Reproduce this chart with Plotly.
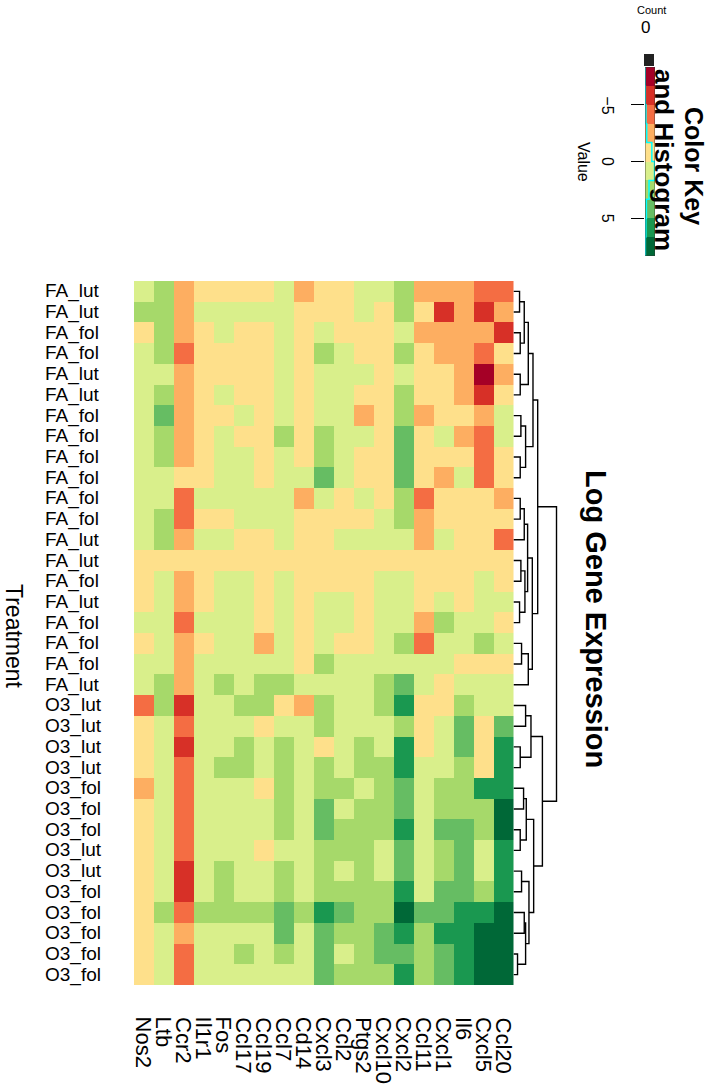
import numpy as np
import plotly.graph_objects as go

genes = ["Nos2", "Ltb", "Ccr2", "Il1r1", "Fos", "Ccl17", "Ccl19", "Ccl7", "Cd14",
         "Cxcl3", "Ccl2", "Ptgs2", "Cxcl10", "Cxcl2", "Ccl11", "Cxcl1", "Il6",
         "Cxcl5", "Ccl20"]

samples = ["FA_lut", "FA_lut", "FA_fol", "FA_fol", "FA_lut", "FA_lut", "FA_fol",
           "FA_fol", "FA_fol", "FA_fol", "FA_fol", "FA_fol", "FA_lut", "FA_lut",
           "FA_fol", "FA_lut", "FA_fol", "FA_fol", "FA_fol", "FA_lut",
           "O3_lut", "O3_lut", "O3_lut", "O3_lut", "O3_fol", "O3_fol", "O3_fol",
           "O3_lut", "O3_lut", "O3_fol", "O3_fol", "O3_fol", "O3_fol", "O3_fol"]

# log expression, one row per sample (top to bottom), one value per gene (left to right)
expression = [
    [0.8, 2.5, -2.5, -0.8, -0.8, -0.8, -0.8, 0.8, -2.5, -0.8, -0.8, 0.8, 0.8, 2.5, -2.5, -2.5, -2.5, -4.2, -4.2],
    [2.5, 2.5, -2.5, 0.8, 0.8, 0.8, 0.8, 0.8, -0.8, -0.8, -0.8, 0.8, -0.8, 2.5, -0.8, -5.8, -2.5, -5.8, -2.5],
    [-0.8, 2.5, -2.5, -0.8, 0.8, -0.8, -0.8, 0.8, -0.8, 0.8, -0.8, -0.8, -0.8, 0.8, -2.5, -2.5, -2.5, -2.5, -5.8],
    [0.8, 2.5, -4.2, -0.8, -0.8, -0.8, -0.8, 0.8, -0.8, 2.5, 0.8, -0.8, -0.8, 2.5, -0.8, -2.5, -2.5, -4.2, -0.8],
    [0.8, 0.8, -2.5, -0.8, -0.8, -0.8, -0.8, 0.8, -0.8, 0.8, 0.8, 0.8, -0.8, 0.8, -0.8, -0.8, -2.5, -7.5, -2.5],
    [0.8, 2.5, -2.5, -0.8, 0.8, -0.8, -0.8, 0.8, -0.8, 0.8, 0.8, -0.8, -0.8, 2.5, -0.8, -0.8, -2.5, -5.8, -0.8],
    [0.8, 4.2, -2.5, -0.8, -0.8, 0.8, -0.8, 0.8, -0.8, 0.8, 0.8, -2.5, -0.8, 2.5, -2.5, -0.8, -0.8, -2.5, 0.8],
    [0.8, 2.5, -2.5, -0.8, 0.8, -0.8, -0.8, 2.5, -0.8, 2.5, 0.8, 0.8, -0.8, 4.2, -0.8, 0.8, -2.5, -4.2, 0.8],
    [0.8, 2.5, -2.5, -0.8, 0.8, 0.8, -0.8, 0.8, -0.8, 2.5, 0.8, -0.8, -0.8, 4.2, -0.8, -0.8, -0.8, -4.2, -0.8],
    [0.8, 0.8, -0.8, -0.8, 0.8, 0.8, -0.8, 0.8, 0.8, 4.2, 0.8, -0.8, -0.8, 4.2, -0.8, -2.5, 0.8, -4.2, -0.8],
    [0.8, 0.8, -4.2, 0.8, 0.8, 0.8, 0.8, 0.8, -2.5, 0.8, -0.8, 0.8, -0.8, 2.5, -4.2, -0.8, -0.8, -0.8, -2.5],
    [0.8, 2.5, -4.2, -0.8, -0.8, 0.8, 0.8, 0.8, -0.8, -0.8, -0.8, -0.8, 0.8, 2.5, -2.5, -0.8, -0.8, -0.8, -0.8],
    [0.8, 2.5, -2.5, 0.8, 0.8, -0.8, -0.8, 0.8, -0.8, -0.8, 0.8, 0.8, 0.8, 0.8, -2.5, 0.8, -0.8, -0.8, -4.2],
    [-0.8, -0.8, -0.8, -0.8, -0.8, -0.8, -0.8, -0.8, -0.8, -0.8, -0.8, -0.8, -0.8, -0.8, -0.8, -0.8, -0.8, -0.8, -0.8],
    [-0.8, 0.8, -2.5, -0.8, 0.8, 0.8, -0.8, 0.8, -0.8, -0.8, -0.8, -0.8, 0.8, 0.8, -0.8, -0.8, -0.8, 0.8, -0.8],
    [-0.8, 0.8, -2.5, -0.8, 0.8, 0.8, -0.8, 0.8, -0.8, 0.8, 0.8, -0.8, 0.8, 0.8, -0.8, 0.8, -0.8, 0.8, 0.8],
    [0.8, 0.8, -4.2, 0.8, 0.8, 0.8, -0.8, 0.8, -0.8, 0.8, 0.8, -0.8, 0.8, 0.8, -2.5, 2.5, 0.8, 0.8, -0.8],
    [-0.8, 0.8, -2.5, -0.8, 0.8, 0.8, -2.5, 0.8, -0.8, 0.8, -0.8, -0.8, 0.8, 2.5, -4.2, 0.8, 0.8, 2.5, 0.8],
    [0.8, 0.8, -2.5, 0.8, 0.8, 0.8, 0.8, 0.8, -0.8, 2.5, 0.8, 0.8, 0.8, 0.8, 0.8, 0.8, -0.8, -0.8, -0.8],
    [0.8, 2.5, -2.5, 0.8, 2.5, 0.8, 2.5, 2.5, 0.8, 0.8, 0.8, 0.8, 2.5, 4.2, 0.8, -0.8, 0.8, 0.8, 0.8],
    [-4.2, 2.5, -5.8, 0.8, 0.8, 2.5, 2.5, -0.8, -2.5, 2.5, 0.8, 0.8, 2.5, 5.8, -0.8, -0.8, 2.5, 0.8, 0.8],
    [-0.8, 0.8, -4.2, 0.8, 0.8, 0.8, -0.8, 0.8, 0.8, 2.5, 0.8, 0.8, 0.8, 2.5, -0.8, 0.8, 4.2, -0.8, 4.2],
    [-0.8, 0.8, -5.8, 0.8, 0.8, 2.5, 0.8, 2.5, 0.8, -0.8, 0.8, 2.5, 0.8, 5.8, -0.8, 0.8, 4.2, -0.8, 5.8],
    [-0.8, 0.8, -4.2, 0.8, 2.5, 2.5, 0.8, 2.5, 0.8, 2.5, 0.8, 2.5, 2.5, 5.8, 0.8, 0.8, 2.5, -0.8, 5.8],
    [-2.5, 0.8, -4.2, 0.8, 0.8, 0.8, -0.8, 2.5, 0.8, 2.5, 2.5, 0.8, 2.5, 4.2, 0.8, 2.5, 2.5, 5.8, 5.8],
    [-0.8, 0.8, -4.2, 0.8, 0.8, 0.8, 0.8, 2.5, 0.8, 4.2, 0.8, 2.5, 2.5, 4.2, 0.8, 2.5, 2.5, 2.5, 7.5],
    [-0.8, 0.8, -4.2, 0.8, 0.8, 0.8, 0.8, 2.5, 0.8, 4.2, 2.5, 2.5, 2.5, 5.8, 0.8, 4.2, 4.2, 2.5, 7.5],
    [-0.8, 0.8, -4.2, 0.8, 0.8, 0.8, -0.8, 0.8, 0.8, 2.5, 2.5, 2.5, 0.8, 4.2, 0.8, 2.5, 4.2, 0.8, 5.8],
    [-0.8, 0.8, -5.8, 0.8, 2.5, 0.8, 0.8, 2.5, 0.8, 2.5, 0.8, 2.5, 0.8, 4.2, 0.8, 2.5, 4.2, 0.8, 5.8],
    [-0.8, 0.8, -5.8, 0.8, 2.5, 0.8, 0.8, 2.5, 0.8, 2.5, 2.5, 2.5, 2.5, 5.8, 0.8, 4.2, 4.2, 2.5, 5.8],
    [-0.8, 2.5, -4.2, 2.5, 2.5, 2.5, 2.5, 4.2, 2.5, 5.8, 4.2, 2.5, 2.5, 7.5, 4.2, 4.2, 5.8, 5.8, 7.5],
    [-0.8, 0.8, -2.5, 0.8, 0.8, 0.8, 0.8, 4.2, 0.8, 4.2, 2.5, 2.5, 4.2, 5.8, 2.5, 5.8, 5.8, 7.5, 7.5],
    [-0.8, 0.8, -4.2, 0.8, 0.8, 2.5, 0.8, 2.5, 0.8, 4.2, 0.8, 2.5, 4.2, 4.2, 2.5, 4.2, 5.8, 7.5, 7.5],
    [-0.8, 0.8, -4.2, 0.8, 0.8, 0.8, 0.8, 0.8, 0.8, 4.2, 2.5, 2.5, 2.5, 5.8, 2.5, 4.2, 5.8, 7.5, 7.5],
]

# colour key breaks and colours (RdYlGn, 10 classes)
key_breaks = [-8.333, -6.667, -5.0, -3.333, -1.667, 0.0, 1.667, 3.333, 5.0, 6.667, 8.333]
key_colors = ["#a50026", "#d73027", "#f46d43", "#fdae61", "#fee08b",
              "#d9ef8b", "#a6d96a", "#66bd63", "#1a9850", "#006837"]
key_ticks = [-5, 0, 5]

# row dendrogram: merges (leaf ids 0..33, merged nodes 34..)
merge_a = [0, 2, 34, 4, 36, 6, 8, 39, 38, 10, 43, 13, 15, 45, 44, 17, 49, 48, 42,
           20, 22, 53, 24, 26, 56, 28, 30, 32, 60, 59, 58, 55, 52]
merge_b = [1, 3, 35, 5, 37, 7, 9, 40, 41, 11, 12, 14, 16, 46, 47, 18, 19, 50, 51,
           21, 23, 54, 25, 27, 57, 29, 31, 33, 61, 62, 63, 64, 65]
merge_h = [0.9, 1.0, 1.6, 1.0, 2.2, 1.1, 1.0, 1.8, 2.9, 1.0, 1.6, 1.1, 0.9, 1.7, 2.1,
           1.2, 2.2, 2.8, 3.6,
           1.8, 1.0, 2.6, 1.5, 1.0, 1.9, 1.2, 1.6, 0.6, 1.8, 2.3, 3.0, 4.3, 6.4]

W, H = 709, 1089
FONT = "Liberation Sans, Arial, Helvetica, sans-serif"


def px(x):
    return x / W


def py(y):
    return 1 - y / H


zmin, zmax = key_breaks[0], key_breaks[-1]
cscale = []
for i, c in enumerate(key_colors):
    cscale.append([i / len(key_colors), c])
    cscale.append([(i + 1) / len(key_colors), c])

fig = go.Figure()

fig.add_trace(go.Heatmap(
    z=expression, x=list(range(len(genes))), y=list(range(len(samples))),
    colorscale=cscale, zmin=zmin, zmax=zmax, showscale=False,
    xaxis="x", yaxis="y", hoverinfo="skip"))

# dendrogram
n = len(samples)
pos = {i: float(i) for i in range(n)}
hgt = {i: 0.0 for i in range(n)}
dx, dy = [], []
for k, (a, b, h) in enumerate(zip(merge_a, merge_b, merge_h)):
    node = n + k
    dx += [hgt[a], h, h, hgt[b], None]
    dy += [pos[a], pos[a], pos[b], pos[b], None]
    pos[node] = (pos[a] + pos[b]) / 2
    hgt[node] = h
fig.add_trace(go.Scatter(x=dx, y=dy, mode="lines", line=dict(color="black", width=1.4),
                         xaxis="x3", yaxis="y3", hoverinfo="skip", showlegend=False))

# colour key histogram
vals = np.array(expression).ravel()
counts = np.histogram(vals, bins=key_breaks)[0]
hy = counts / counts.max() * 0.95
hx_line = list(hy) + [hy[-1]]
count_ticks = np.arange(0, counts.max() + 1, 50) / counts.max() * 0.95

# key colour bins as a one-column heatmap
key_centers = [(key_breaks[i] + key_breaks[i + 1]) / 2 for i in range(len(key_colors))]
fig.add_trace(go.Heatmap(
    z=[[c] for c in key_centers], x=[0.5], y=key_centers, dx=1,
    colorscale=cscale, zmin=zmin, zmax=zmax, showscale=False,
    xaxis="x2", yaxis="y2", hoverinfo="skip"))
fig.add_trace(go.Scatter(x=hx_line, y=key_breaks, mode="lines",
                         line=dict(color="cyan", width=1.5, shape="vh"),
                         xaxis="x2", yaxis="y2", hoverinfo="skip", showlegend=False))

shapes = [dict(type="rect", xref="x2", yref="y2", x0=0, x1=1, y0=zmin, y1=zmax,
               line=dict(color="#333333", width=0.8))]

ann = []


def add_text(text, x, y, size, xref="paper", yref="paper", angle=0, xanchor="center",
             yanchor="middle"):
    ann.append(dict(text=text, x=x, y=y, xref=xref, yref=yref, textangle=angle,
                    xanchor=xanchor, yanchor=yanchor, showarrow=False,
                    font=dict(family=FONT, size=size, color="black")))


for i, s in enumerate(samples):
    add_text(s, px(43), i, 19, yref="y", xanchor="left")
for j, g in enumerate(genes):
    add_text(g, j, py(1015), 22, xref="x", angle=90, yanchor="top")
add_text("<b>Log Gene Expression</b>", px(596), py(619), 29, angle=90)
add_text("Treatment", px(14), py(636), 23, angle=90)
add_text("<b>Color Key</b>", px(694), py(166), 25, angle=90)
add_text("<b>and Histogram</b>", px(664), py(160), 26, angle=90)
add_text("Value", px(583), py(162), 16, angle=90)
for t in key_ticks:
    add_text(("\u2212" + str(-t)) if t < 0 else str(t), px(607.5), t, 16, yref="y2", angle=90)
add_text("Count", px(651), py(10), 11)
add_text("0", px(645), py(28), 17)

hide = dict(visible=False, showgrid=False, zeroline=False)
fig.update_layout(
    width=W, height=H, margin=dict(l=0, r=0, t=0, b=0),
    paper_bgcolor="white", plot_bgcolor="rgba(0,0,0,0)", showlegend=False,
    xaxis=dict(domain=[px(134), px(513.5)], range=[-0.5, len(genes) - 0.5], anchor="y", **hide),
    yaxis=dict(domain=[py(985), py(281)], range=[len(samples) - 0.5, -0.5], anchor="x", **hide),
    xaxis3=dict(domain=[px(513.5), px(580)], range=[0, (580 - 513.5) / 6.72], anchor="y3", **hide),
    yaxis3=dict(domain=[py(985), py(281)], range=[len(samples) - 0.5, -0.5], anchor="x3", **hide),
    xaxis2=dict(domain=[px(645), px(655)], range=[0, 1], anchor="y2", side="top",
                showgrid=False, zeroline=False, showline=False, ticks="outside",
                ticklen=12, tickwidth=1.5, tickcolor="#222222", tickvals=list(count_ticks),
                showticklabels=False),
    yaxis2=dict(domain=[py(256), py(67)], range=[zmax, zmin], anchor="x2", side="left",
                showgrid=False, zeroline=False, showline=False, ticks="outside",
                ticklen=13, tickwidth=1, tickcolor="black", tickvals=key_ticks,
                showticklabels=False),
    shapes=shapes, annotations=ann,
)

fig.write_html("out.html", config={"displayModeBar": False},
               post_script="document.body.style.margin='0px';document.body.style.overflow='hidden';")
